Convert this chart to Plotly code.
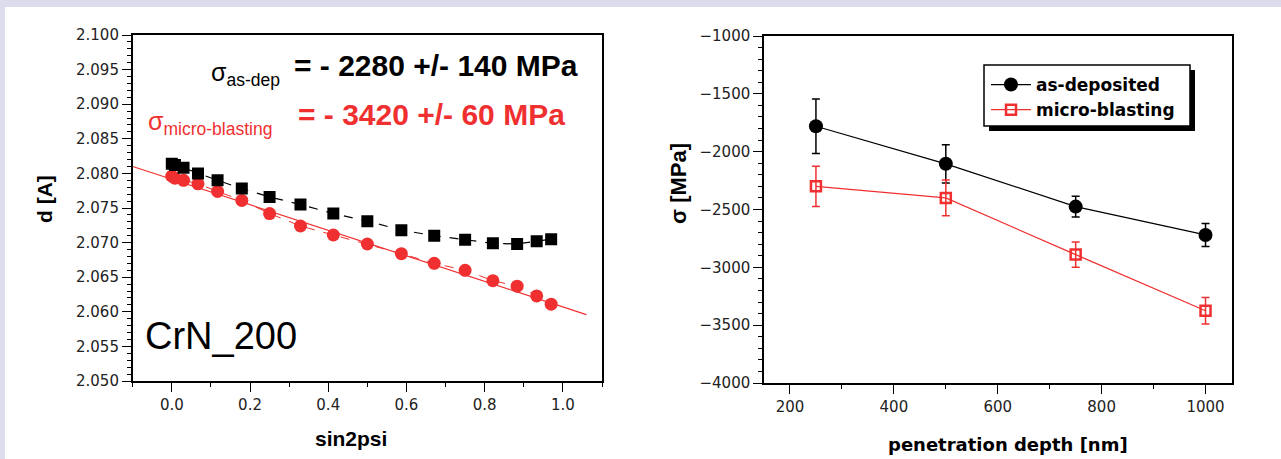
import plotly.graph_objects as go

W, H = 1281, 459

# ---------------- data ----------------
sin2psi = [0.0, 0.008, 0.030, 0.067, 0.117, 0.179, 0.250, 0.329, 0.413, 0.500,
           0.587, 0.671, 0.750, 0.821, 0.883, 0.933, 0.970]
d_asdep = [2.0814, 2.0812, 2.0808, 2.0800, 2.0790, 2.0778, 2.0766, 2.0755, 2.0742,
           2.0731, 2.0718, 2.0710, 2.0704, 2.0699, 2.0698, 2.0702, 2.0705]
d_mb = [2.0796, 2.0793, 2.0790, 2.0785, 2.0774, 2.0761, 2.0742, 2.0724, 2.0711,
        2.0698, 2.0684, 2.0670, 2.0660, 2.0645, 2.0637, 2.0623, 2.0611]
fit_x = [-0.1, 1.06]
fit_d = [2.0810, 2.0596]

depth = [250, 500, 750, 1000]
sigma_asdep = [-1780, -2105, -2475, -2720]
err_asdep = [235, 165, 90, 100]
sigma_mb = [-2300, -2400, -2890, -3375]
err_mb = [175, 155, 110, 115]

RED = "#f03030"
BLACK = "#000000"


def px(x):
    return x / W


def py(y):
    return 1 - y / H


fig = go.Figure()

# left panel
fig.add_trace(go.Scatter(x=fit_x, y=fit_d, mode="lines", line=dict(color=RED, width=1.2),
                         showlegend=False, xaxis="x", yaxis="y"))
fig.add_trace(go.Scatter(x=sin2psi, y=d_mb, mode="lines+markers",
                         line=dict(color=RED, width=1, dash="dash"),
                         marker=dict(symbol="circle", size=13, color=RED),
                         showlegend=False, xaxis="x", yaxis="y"))
fig.add_trace(go.Scatter(x=sin2psi, y=d_asdep, mode="lines+markers",
                         line=dict(color=BLACK, width=1.2, dash="dash"),
                         marker=dict(symbol="square", size=12, color=BLACK),
                         showlegend=False, xaxis="x", yaxis="y"))

# right panel
fig.add_trace(go.Scatter(x=depth, y=sigma_asdep, mode="lines+markers", name="as-deposited",
                         line=dict(color=BLACK, width=1.2),
                         marker=dict(symbol="circle", size=14, color=BLACK),
                         error_y=dict(type="data", array=err_asdep, color=BLACK, thickness=1.5, width=4),
                         xaxis="x2", yaxis="y2"))
fig.add_trace(go.Scatter(x=depth, y=sigma_mb, mode="lines+markers", name="micro-blasting",
                         line=dict(color=RED, width=1.2),
                         marker=dict(symbol="square-open", size=10, color=RED, line=dict(width=2.5)),
                         error_y=dict(type="data", array=err_mb, color=RED, thickness=1.5, width=4),
                         xaxis="x2", yaxis="y2"))

tickfont = dict(family="DejaVu Sans", size=15, color="#222")
base = dict(showgrid=False, zeroline=False, showline=True, linecolor="black", linewidth=1.5,
            tickcolor="black", tickwidth=1.3, tickfont=tickfont, automargin=False)


def main_axis(**kw):
    d = dict(base)
    d.update(ticks="outside", ticklen=9, mirror=True)
    d.update(kw)
    return d


def over_axis(**kw):
    d = dict(base)
    d.update(ticks="inside", ticklen=6, showticklabels=False)
    d.update(kw)
    return d


xdomL = [px(132.7), px(602)]
ydomL = [py(381), py(35)]
xdomR = [px(764), px(1231.5)]
ydomR = [py(383), py(36)]

minor_out = lambda dt: dict(dtick=dt, ticks="outside", ticklen=4, tickwidth=1, tickcolor="black")
minor_in = lambda dt: dict(dtick=dt, ticks="inside", ticklen=3, tickwidth=1, tickcolor="black")

fig.update_layout(
    template="none",
    width=W, height=H, margin=dict(l=0, r=0, t=0, b=0, pad=0, autoexpand=False), autosize=False,
    paper_bgcolor="white", plot_bgcolor="white",
    font=dict(family="DejaVu Sans", size=14, color="#222"),
    xaxis=main_axis(domain=xdomL, range=[-0.1, 1.1], tick0=0, dtick=0.2, tickformat=".1f",
                    anchor="y", minor=minor_out(0.1)),
    yaxis=main_axis(domain=ydomL, range=[2.05, 2.10], tick0=2.05, dtick=0.005, tickformat=".3f",
                    anchor="x", minor=minor_out(0.001)),
    xaxis3=over_axis(overlaying="x", side="top", anchor="y", range=[-0.1, 1.1], tick0=0, dtick=0.2,
                     minor=minor_in(0.1)),
    yaxis3=over_axis(overlaying="y", side="right", anchor="x", range=[2.05, 2.10], tick0=2.05,
                     dtick=0.005, minor=minor_in(0.001)),
    xaxis2=main_axis(domain=xdomR, range=[150, 1050], tick0=0, dtick=200, anchor="y2",
                     minor=minor_out(100)),
    yaxis2=main_axis(domain=ydomR, range=[-4000, -1000], tick0=-4000, dtick=500, anchor="x2",
                     minor=minor_out(100)),
    xaxis4=over_axis(overlaying="x2", side="top", anchor="y2", range=[150, 1050], tick0=0, dtick=200,
                     minor=minor_in(100)),
    yaxis4=over_axis(overlaying="y2", side="right", anchor="x2", range=[-4000, -1000], tick0=-4000,
                     dtick=500, minor=minor_in(100)),
    legend=dict(x=px(986), y=py(67), xanchor="left", yanchor="top",
                bgcolor="rgba(0,0,0,0)", borderwidth=0,
                font=dict(family="DejaVu Sans", size=17, color="black", weight="bold"),
                itemwidth=40, tracegroupgap=0),
    showlegend=True,
)

# decorative lavender frame strips
fig.add_shape(type="rect", xref="paper", yref="paper", x0=0, x1=1, y0=py(7), y1=1,
              fillcolor="#dcdcec", line=dict(width=0), layer="below")
fig.add_shape(type="rect", xref="paper", yref="paper", x0=0, x1=px(5), y0=0, y1=1,
              fillcolor="#dcdcec", line=dict(width=0), layer="below")
# legend frame with drop shadow
fig.add_shape(type="rect", xref="paper", yref="paper", x0=px(989), x1=px(1195), y0=py(131), y1=py(70),
              fillcolor="black", line=dict(width=0), layer="above")
fig.add_shape(type="rect", xref="paper", yref="paper", x0=px(984), x1=px(1190), y0=py(126), y1=py(65),
              fillcolor="white", line=dict(color="black", width=1.5), layer="above")

ann = []


def A(text, x, y, size, color="black", family="Liberation Sans", bold=False, xanchor="left",
      yanchor="middle", angle=0):
    ann.append(dict(text=text, x=px(x), y=py(y), xref="paper", yref="paper", showarrow=False,
                    xanchor=xanchor, yanchor=yanchor, textangle=angle,
                    font=dict(family=family, size=size, color=color,
                              weight="bold" if bold else "normal")))


A("σ<sub>as-dep</sub>", 209, 74, 25)
A("= - 2280 +/- 140 MPa", 292, 66, 30, bold=True)
A("σ<sub>micro-blasting</sub>", 146, 123, 25, color=RED)
A("= - 3420 +/- 60 MPa", 296, 115, 30, color=RED, bold=True)
A("CrN_200", 143, 336, 38)
A("d [A]", 45, 199, 21, bold=True, xanchor="center", angle=-90)
A("sin2psi", 351, 438, 21, bold=True, xanchor="center")
A("σ [MPa]", 678, 184, 22, bold=True, xanchor="center", angle=-90)
A("penetration depth [nm]", 1008, 444, 18, family="DejaVu Sans", bold=True, xanchor="center")
fig.update_layout(annotations=ann)

fig.write_html("out.html", config={"displayModeBar": False},
               post_script="document.body.style.margin='0px';document.body.style.overflow='hidden';")
